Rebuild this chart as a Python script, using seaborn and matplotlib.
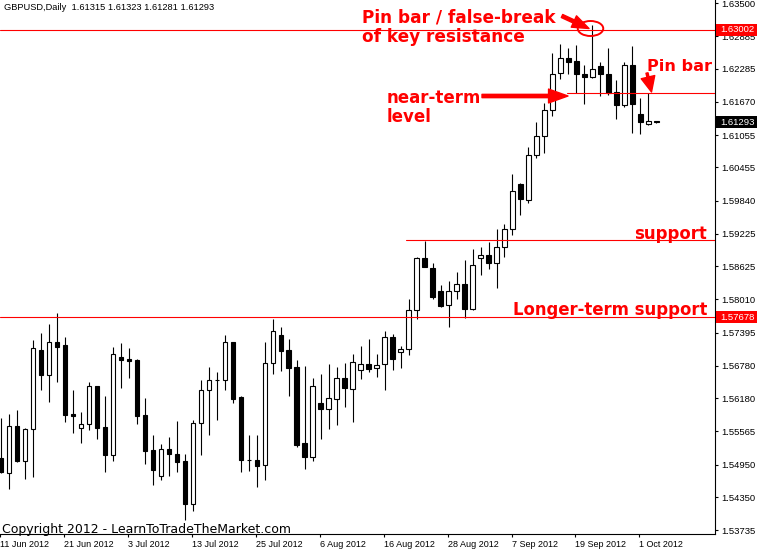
import numpy as np
import pandas as pd
import matplotlib
matplotlib.use("Agg")
import matplotlib.pyplot as plt
from matplotlib.patches import Ellipse, FancyArrowPatch, Rectangle
import seaborn as sns

# ---------------- data (GBPUSD daily) ----------------
symbol = "GBPUSD"
timeframe = "Daily"
start_date = "2012-06-11"

opens = [1.55068, 1.54802, 1.55667, 1.55024, 1.55605, 1.57074, 1.56617, 1.57217, 1.57167, 1.55889,
         1.55635, 1.55698, 1.56407, 1.55648, 1.55129, 1.56950, 1.56913, 1.56889, 1.55870, 1.55222,
         1.54746, 1.55241, 1.55148, 1.55018, 1.54227, 1.55728, 1.56333, 1.56513, 1.56513, 1.57217,
         1.56204, 1.55031, 1.55037, 1.54939, 1.56828, 1.57352, 1.57074, 1.56759, 1.55346, 1.55098,
         1.56092, 1.55987, 1.56172, 1.56550, 1.56357, 1.56698, 1.56809, 1.56735, 1.56809, 1.57309,
         1.57031, 1.57087, 1.57815, 1.58778, 1.58593, 1.58172, 1.57902, 1.58161, 1.58296, 1.57828,
         1.58778, 1.58839, 1.58680, 1.58987, 1.59309, 1.60148, 1.59852, 1.60685, 1.61032, 1.61519,
         1.62199, 1.62476, 1.62421, 1.62186, 1.62124, 1.62328, 1.62186, 1.61852, 1.61617, 1.62347,
         1.61439, 1.61265, 1.61315]
highs = [1.55809, 1.55889, 1.55963, 1.55629, 1.57259, 1.57394, 1.57555, 1.57754, 1.57320, 1.56333,
         1.55926, 1.56481, 1.56416, 1.56222, 1.57135, 1.57209, 1.57111, 1.56902, 1.56185, 1.55500,
         1.55333, 1.55468, 1.55759, 1.55148, 1.55778, 1.56518, 1.56765, 1.56672, 1.57357, 1.57222,
         1.56222, 1.55500, 1.55500, 1.57222, 1.57648, 1.57500, 1.57278, 1.56889, 1.56778, 1.56555,
         1.56630, 1.56815, 1.56759, 1.56833, 1.57000, 1.57148, 1.57278, 1.57000, 1.57426, 1.57370,
         1.57148, 1.58019, 1.58802, 1.59098, 1.58691, 1.58272, 1.58352, 1.58524, 1.58741, 1.58939,
         1.58987, 1.59069, 1.59315, 1.59408, 1.60334, 1.60161, 1.60828, 1.61297, 1.61654, 1.62569,
         1.62736, 1.62661, 1.62723, 1.62352, 1.63093, 1.62413, 1.62661, 1.62074, 1.62413, 1.62710,
         1.61736, 1.61839, 1.61323]
lows = [1.54802, 1.54505, 1.55009, 1.54690, 1.54727, 1.56333, 1.56116, 1.56487, 1.55746, 1.55542,
        1.55357, 1.55592, 1.55431, 1.54815, 1.55024, 1.56370, 1.56555, 1.55704, 1.54963, 1.54574,
        1.54666, 1.54740, 1.54815, 1.53926, 1.54098, 1.55129, 1.55500, 1.55778, 1.56333, 1.56087,
        1.54820, 1.54839, 1.54542, 1.54666, 1.56635, 1.56691, 1.56222, 1.55283, 1.54876, 1.55018,
        1.55426, 1.55616, 1.55685, 1.56018, 1.55746, 1.56537, 1.56667, 1.56574, 1.56333, 1.56704,
        1.56741, 1.56987, 1.57643, 1.58602, 1.58013, 1.57876, 1.57506, 1.58013, 1.57661, 1.57815,
        1.58469, 1.58569, 1.58228, 1.58791, 1.59198, 1.59574, 1.59802, 1.60624, 1.60717, 1.61408,
        1.62087, 1.62186, 1.61839, 1.61624, 1.62106, 1.61778, 1.61797, 1.61347, 1.61580, 1.61098,
        1.61069, 1.61235, 1.61281]
closes = [1.54820, 1.55667, 1.55024, 1.55605, 1.57105, 1.56617, 1.57217, 1.57135, 1.55870, 1.55851,
          1.55698, 1.56407, 1.55635, 1.55129, 1.57000, 1.56889, 1.56876, 1.55857, 1.55209, 1.54852,
          1.55241, 1.55148, 1.55000, 1.54227, 1.55716, 1.56333, 1.56518, 1.56515, 1.57217, 1.56172,
          1.55042, 1.55029, 1.54931, 1.56833, 1.57420, 1.57061, 1.56746, 1.55315, 1.55098, 1.56407,
          1.55987, 1.56179, 1.56550, 1.56376, 1.56846, 1.56809, 1.56728, 1.56791, 1.57309, 1.56913,
          1.57087, 1.57809, 1.58778, 1.58606, 1.58061, 1.57889, 1.58172, 1.58296, 1.57828, 1.58648,
          1.58833, 1.58680, 1.58987, 1.59315, 1.60024, 1.59865, 1.60685, 1.61032, 1.61519, 1.62186,
          1.62476, 1.62413, 1.62186, 1.62124, 1.62273, 1.62186, 1.61839, 1.61617, 1.62347, 1.61630,
          1.61297, 1.61310, 1.61293]

# horizontal levels drawn on the chart
key_resistance = 1.63002
near_term_level = 1.61834
support_level = 1.59111
longer_term_support = 1.57678

# price scale labels on the right
ytick_values = [1.63500, 1.62885, 1.62285, 1.61670, 1.61055, 1.60455, 1.59840, 1.59225, 1.58625,
                1.58010, 1.57395, 1.56780, 1.56180, 1.55565, 1.54950, 1.54350, 1.53735]
xtick_every = 8

# ---------------- figure ----------------
W, H = 757, 553
sns.set_style("white")
plt.rcParams["font.family"] = ["DejaVu Sans"]

fig = plt.figure(figsize=(W / 100, H / 100), dpi=100)
fig.patch.set_facecolor("white")
ax = fig.add_axes([0, 19 / H, 715 / W, 534 / H])

n = len(opens)
dates = pd.bdate_range(start_date, periods=n)
df = pd.DataFrame({"idx": np.arange(n), "open": opens, "high": highs, "low": lows, "close": closes})
df["bull"] = df["close"] >= df["open"]
df["bottom"] = df[["open", "close"]].min(axis=1)
df["height"] = (df["close"] - df["open"]).abs()

# wicks
ax.vlines(df["idx"], df["low"], df["high"], color="black", lw=0.8, zorder=2)

# bodies
for bull, fc in [(True, "white"), (False, "black")]:
    sub = df[df["bull"] == bull].sort_values("idx")
    sns.barplot(data=sub, x="idx", y="height", native_scale=True, width=0.55,
                color=fc, saturation=1, errorbar=None, ax=ax,
                bottom=sub["bottom"].values, edgecolor="black", linewidth=0.8, zorder=3)

ymax = 1.63556
ymin = ymax - 534 * 0.0001852
ax.set_xlim(-0.0375, (715 - 0.3) / 8)
ax.set_ylim(ymin, ymax)
ax.set_xlabel("")
ax.set_ylabel("")

red = "#ff0000"
ax.axhline(key_resistance, color=red, lw=0.8, zorder=4)
ax.axhline(longer_term_support, color=red, lw=0.8, zorder=4)
ax.axhline(support_level, xmin=406 / 715, color=red, lw=0.8, zorder=4)
ax.axhline(near_term_level, xmin=567 / 715, color=red, lw=0.8, zorder=4)

# spines / ticks
for s in ["top", "left"]:
    ax.spines[s].set_visible(False)
for s in ["right", "bottom"]:
    ax.spines[s].set_visible(True)
    ax.spines[s].set_color("black")
    ax.spines[s].set_linewidth(0.8)

ax.yaxis.tick_right()
ax.set_yticks(ytick_values)
ax.set_yticklabels([f"{v:.5f}" for v in ytick_values])
ax.tick_params(axis="y", which="both", right=True, left=False, length=2.5, width=0.8,
               color="black", pad=2.2, labelsize=6.8, labelcolor="black")
xt = list(range(0, n, xtick_every))
ax.set_xticks([i - 0.12 for i in xt])
ax.set_xticklabels([f"{dates[i].day} {dates[i]:%b %Y}" for i in xt], ha="left")
ax.tick_params(axis="x", which="both", bottom=True, length=2.5, width=0.8, color="black",
               pad=1.5, labelsize=6.5, labelcolor="black")
for lab in ax.get_xticklabels() + ax.get_yticklabels():
    lab.set_fontfamily("Liberation Sans")

# price boxes on the scale
px = (ymax - ymin) / 534
ytr = ax.get_yaxis_transform()
for lvl, fc in [(key_resistance, red), (longer_term_support, red), (closes[-1], "black")]:
    ax.add_patch(Rectangle((716 / 715, lvl - 6 * px), 41 / 715, 12 * px, transform=ytr,
                           facecolor=fc, edgecolor="none", clip_on=False, zorder=10))
    ax.text(720.5 / 715, lvl, f"{lvl:.5f}", transform=ytr, color="white", fontsize=6.8,
            family="Liberation Sans", va="center", ha="left", clip_on=False, zorder=11)


def P(x, y):
    return (x / W, 1 - y / H)


# header
fig.text(*P(4, 7), f"{symbol},{timeframe}  {opens[-1]:.5f} {highs[-1]:.5f} {lows[-1]:.5f} {closes[-1]:.5f}",
         fontsize=6.7, family="Liberation Sans", va="center", ha="left", color="black")
# copyright
fig.text(*P(2, 533), "Copyright 2012 - LearnToTradeTheMarket.com", fontsize=9.0,
         va="baseline", ha="left", color="black", zorder=20)

# annotations
ann = dict(color=red, fontweight="bold", va="baseline")
fig.text(*P(362, 22.7), "Pin bar / false-break", ha="left", fontsize=12.2, **ann)
fig.text(*P(362, 41.7), "of key resistance", ha="left", fontsize=12.2, **ann)
fig.text(*P(387, 103.3), "near-term", ha="left", fontsize=12.0, **ann)
fig.text(*P(387, 121.7), "level", ha="left", fontsize=12.0, **ann)
fig.text(*P(647, 71), "Pin bar", ha="left", fontsize=11.6, **ann)
fig.text(*P(707, 238.7), "support", ha="right", fontsize=11.9, **ann)
fig.text(*P(707, 315.3), "Longer-term support", ha="right", fontsize=11.9, **ann)

tf = fig.transFigure
fig.add_artist(FancyArrowPatch(P(482, 96), P(568, 96), transform=tf, color=red,
                               arrowstyle="simple,head_length=14,head_width=10,tail_width=2.4",
                               mutation_scale=1, shrinkA=0, shrinkB=0, zorder=12))
fig.add_artist(FancyArrowPatch(P(562, 16), P(589, 28.5), transform=tf, color=red,
                               arrowstyle="simple,head_length=12,head_width=9,tail_width=2.4",
                               mutation_scale=1, shrinkA=0, shrinkB=0, zorder=12))
fig.add_artist(FancyArrowPatch(P(647, 73), P(651.5, 92), transform=tf, color=red,
                               arrowstyle="simple,head_length=11,head_width=10,tail_width=1.5",
                               mutation_scale=1, shrinkA=0, shrinkB=0, zorder=12))
fig.add_artist(Ellipse(P(590.5, 28.5), 25.5 / W, 15 / H, transform=tf, fill=False,
                       edgecolor=red, lw=1.4, zorder=12))

fig.savefig("out.png", dpi=100)
